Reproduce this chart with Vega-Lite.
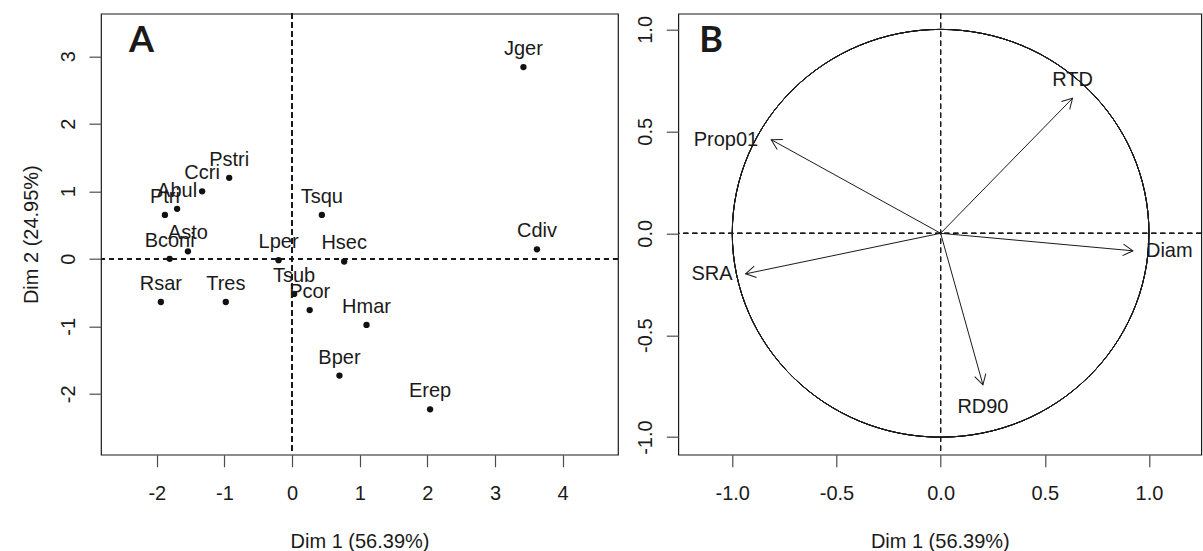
{
  "$schema": "https://vega.github.io/schema/vega-lite/v6.json",
  "background": "white",
  "padding": {"left": 20, "top": 11.7, "right": 0, "bottom": 0},
  "bounds": "flush",
  "spacing": 60.3,
  "config": {
    "font": "Liberation Sans",
    "view": {"stroke": "#1a1a1a", "strokeWidth": 1.2},
    "axis": {
      "grid": false,
      "domain": false,
      "tickSize": 12,
      "tickColor": "#4d4d4d",
      "tickWidth": 1.2,
      "labelFont": "Liberation Sans",
      "labelFontSize": 20,
      "labelColor": "#1a1a1a",
      "labelOverlap": false,
      "labelFlush": false,
      "titleFont": "Liberation Sans",
      "titleFontSize": 20,
      "titleFontWeight": "normal",
      "titleColor": "#1a1a1a"
    },
    "axisX": {"labelPadding": 17, "labelBaseline": "top", "titleBaseline": "alphabetic", "titleY": 92.5},
    "axisY": {"labelAngle": -90, "labelAlign": "center", "labelBaseline": "alphabetic", "labelPadding": 14.7}
  },
  "datasets": {
    "species": [
      {"sp": "Jger", "d1": 3.42, "d2": 2.84},
      {"sp": "Cdiv", "d1": 3.62, "d2": 0.14},
      {"sp": "Pstri", "d1": -0.93, "d2": 1.20},
      {"sp": "Ccri", "d1": -1.33, "d2": 1.00},
      {"sp": "Abul", "d1": -1.70, "d2": 0.74},
      {"sp": "Ptri", "d1": -1.88, "d2": 0.65},
      {"sp": "Tsqu", "d1": 0.44, "d2": 0.65},
      {"sp": "Asto", "d1": -1.54, "d2": 0.11},
      {"sp": "Bconi", "d1": -1.81, "d2": 0.00},
      {"sp": "Lper", "d1": -0.20, "d2": -0.02},
      {"sp": "Hsec", "d1": 0.77, "d2": -0.04},
      {"sp": "Rsar", "d1": -1.94, "d2": -0.64},
      {"sp": "Tres", "d1": -0.98, "d2": -0.64},
      {"sp": "Tsub", "d1": 0.03, "d2": -0.52},
      {"sp": "Pcor", "d1": 0.26, "d2": -0.76},
      {"sp": "Hmar", "d1": 1.10, "d2": -0.98},
      {"sp": "Bper", "d1": 0.70, "d2": -1.73},
      {"sp": "Erep", "d1": 2.04, "d2": -2.23}
    ],
    "variables": [
      {"var": "RTD", "d1": 0.633, "d2": 0.662},
      {"var": "Prop01", "d1": -0.813, "d2": 0.459},
      {"var": "Diam", "d1": 0.923, "d2": -0.086},
      {"var": "SRA", "d1": -0.936, "d2": -0.199},
      {"var": "RD90", "d1": 0.203, "d2": -0.743}
    ]
  },
  "hconcat": [
    {
      "width": 517,
      "height": 441,
      "title": {"text": "A", "anchor": "start", "frame": "group", "font": "Lato", "fontSize": 36, "fontWeight": "bold", "color": "#1a1a1a", "baseline": "alphabetic", "offset": 0, "dx": 28, "dy": 74.6},
      "data": {"name": "species"},
      "layer": [
        {
          "mark": {"type": "rule", "strokeDash": [5, 4], "color": "#1a1a1a", "strokeWidth": 1},
          "encoding": {"x": {"datum": 0, "type": "quantitative"}}
        },
        {
          "mark": {"type": "rule", "strokeDash": [5, 4], "color": "#1a1a1a", "strokeWidth": 1},
          "encoding": {"y": {"datum": 0, "type": "quantitative"}}
        },
        {
          "mark": {"type": "circle", "size": 40, "color": "#111111", "opacity": 1},
          "encoding": {
            "x": {
              "field": "d1", "type": "quantitative",
              "scale": {"domain": [-2.825, 4.818], "nice": false, "zero": false},
              "axis": {"values": [-2, -1, 0, 1, 2, 3, 4], "labelExpr": "datum.value < 0 ? '-' + format(-datum.value, 'd') : format(datum.value, 'd')"},
              "title": "Dim 1 (56.39%)"
            },
            "y": {
              "field": "d2", "type": "quantitative",
              "scale": {"domain": [-2.902, 3.631], "nice": false, "zero": false},
              "axis": {"values": [-2, -1, 0, 1, 2, 3], "labelExpr": "datum.value < 0 ? '-' + format(-datum.value, 'd') : format(datum.value, 'd')", "titleAngle": -90, "titleAlign": "center", "titleBaseline": "alphabetic", "titleX": -64, "titleY": 220.5},
              "title": "Dim 2 (24.95%)"
            }
          }
        },
        {
          "mark": {"type": "text", "align": "center", "baseline": "alphabetic", "dy": -12, "fontSize": 20, "font": "Liberation Sans", "color": "#1a1a1a"},
          "encoding": {
            "x": {"field": "d1", "type": "quantitative"},
            "y": {"field": "d2", "type": "quantitative"},
            "text": {"field": "sp"}
          }
        }
      ]
    },
    {
      "width": 523,
      "height": 441,
      "title": {"text": "B", "anchor": "start", "frame": "group", "font": "Lato", "fontSize": 36, "fontWeight": "bold", "color": "#1a1a1a", "baseline": "alphabetic", "offset": 0, "dx": 21, "dy": 74.6},
      "data": {"name": "variables"},
      "transform": [
        {"calculate": "atan2(-datum.d2 * 0.9786, datum.d1) * 180 / PI", "as": "heading"}
      ],
      "layer": [
        {
          "mark": {"type": "rule", "strokeDash": [5, 4], "color": "#1a1a1a", "strokeWidth": 1},
          "encoding": {"x": {"datum": 0, "type": "quantitative"}}
        },
        {
          "mark": {"type": "rule", "strokeDash": [5, 4], "color": "#1a1a1a", "strokeWidth": 1},
          "encoding": {"y": {"datum": 0, "type": "quantitative"}}
        },
        {
          "mark": {"type": "point", "shape": "M-1,0A1,0.9786,0,1,1,1,0A1,0.9786,0,1,1,-1,0", "size": 173640, "filled": false, "stroke": "#1a1a1a", "strokeWidth": 1, "opacity": 1},
          "encoding": {
            "x": {"datum": 0, "type": "quantitative"},
            "y": {"datum": 0, "type": "quantitative"}
          }
        },
        {
          "mark": {"type": "rule", "color": "#1a1a1a", "strokeWidth": 1},
          "encoding": {
            "x": {
              "field": "d1", "type": "quantitative",
              "scale": {"domain": [-1.259, 1.251], "nice": false, "zero": false},
              "axis": {"values": [-1, -0.5, 0, 0.5, 1], "labelExpr": "datum.value < 0 ? '-' + format(-datum.value, '.1f') : format(datum.value, '.1f')"},
              "title": "Dim 1 (56.39%)"
            },
            "y": {
              "field": "d2", "type": "quantitative",
              "scale": {"domain": [-1.086, 1.077], "nice": false, "zero": false},
              "axis": {"values": [-1, -0.5, 0, 0.5, 1], "labelExpr": "datum.value < 0 ? '-' + format(-datum.value, '.1f') : format(datum.value, '.1f')"},
              "title": null
            },
            "x2": {"datum": 0},
            "y2": {"datum": 0}
          }
        },
        {
          "mark": {"type": "point", "shape": "M-1,-0.577L0,0L-1,0.577", "size": 400, "filled": false, "stroke": "#1a1a1a", "strokeWidth": 1, "opacity": 1},
          "encoding": {
            "x": {"field": "d1", "type": "quantitative"},
            "y": {"field": "d2", "type": "quantitative"},
            "angle": {"field": "heading", "type": "quantitative", "scale": null}
          }
        },
        {
          "transform": [{"filter": {"field": "var", "oneOf": ["RTD"]}}],
          "mark": {"type": "text", "align": "center", "baseline": "alphabetic", "dy": -12, "fontSize": 20, "font": "Liberation Sans", "color": "#1a1a1a"},
          "encoding": {
            "x": {"field": "d1", "type": "quantitative"},
            "y": {"field": "d2", "type": "quantitative"},
            "text": {"field": "var"}
          }
        },
        {
          "transform": [{"filter": {"field": "var", "oneOf": ["Prop01", "SRA"]}}],
          "mark": {"type": "text", "align": "right", "baseline": "middle", "dx": -13, "fontSize": 20, "font": "Liberation Sans", "color": "#1a1a1a"},
          "encoding": {
            "x": {"field": "d1", "type": "quantitative"},
            "y": {"field": "d2", "type": "quantitative"},
            "text": {"field": "var"}
          }
        },
        {
          "transform": [{"filter": {"field": "var", "oneOf": ["Diam"]}}],
          "mark": {"type": "text", "align": "left", "baseline": "middle", "dx": 13, "fontSize": 20, "font": "Liberation Sans", "color": "#1a1a1a"},
          "encoding": {
            "x": {"field": "d1", "type": "quantitative"},
            "y": {"field": "d2", "type": "quantitative"},
            "text": {"field": "var"}
          }
        },
        {
          "transform": [{"filter": {"field": "var", "oneOf": ["RD90"]}}],
          "mark": {"type": "text", "align": "center", "baseline": "top", "dy": 12, "fontSize": 20, "font": "Liberation Sans", "color": "#1a1a1a"},
          "encoding": {
            "x": {"field": "d1", "type": "quantitative"},
            "y": {"field": "d2", "type": "quantitative"},
            "text": {"field": "var"}
          }
        }
      ]
    }
  ]
}
